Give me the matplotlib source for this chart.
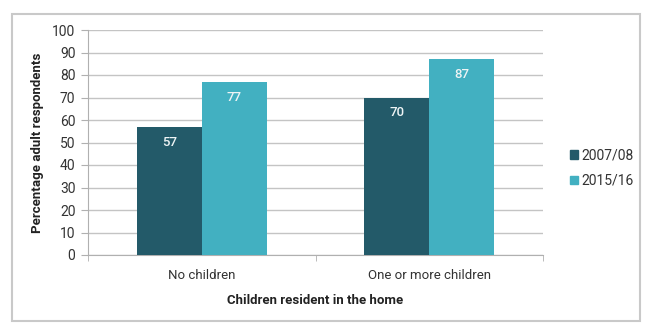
import matplotlib
matplotlib.use("Agg")
import matplotlib.pyplot as plt
from matplotlib.patches import Rectangle, Patch
import numpy as np

categories = ["No children", "One or more children"]
series_names = ["2007/08", "2015/16"]
values_2007 = [57, 70]
values_2015 = [77, 87]
y_ticks = [0, 10, 20, 30, 40, 50, 60, 70, 80, 90, 100]

colors = ["#235a69", "#42b0c1"]
font = "Roboto"
plt.rcParams["font.family"] = [font, "DejaVu Sans"]

fig = plt.figure(figsize=(6.5, 3.31), dpi=100)
ax = fig.add_axes([88/650, 1-255/331, (543-88)/650, (255-30)/331])

x = np.arange(len(categories))
w = 0.286
b1 = ax.bar(x - w/2, values_2007, w, color=colors[0], zorder=3)
b2 = ax.bar(x + w/2, values_2015, w, color=colors[1], zorder=3)

for bars, vals in ((b1, values_2007), (b2, values_2015)):
    for rect, v in zip(bars, vals):
        ax.text(rect.get_x() + rect.get_width()/2, v - 6.8, str(v),
                ha="center", va="center", color="#eef4f5", fontsize=9.5,
                fontweight="medium", zorder=4)

ax.set_xlim(-0.5, 1.5)
ax.set_ylim(0, 100)
ax.set_yticks(y_ticks)
ax.set_yticklabels([str(t) for t in y_ticks], fontsize=10, color="#333333")
ax.yaxis.grid(True, color="#c4c4c4", linewidth=1.0, zorder=0)
ax.set_axisbelow(True)

ax.set_xticks(x)
ax.set_xticklabels(categories, fontsize=9.5, color="#333333")
ax.tick_params(axis="x", length=0, pad=10)
# minor ticks at category boundaries
ax.set_xticks([-0.5, 0.5, 1.5], minor=True)
ax.tick_params(axis="x", which="minor", length=4, color="#b0b0b0")
ax.tick_params(axis="y", length=5, color="#b0b0b0", pad=4)

for s in ["top", "right"]:
    ax.spines[s].set_visible(False)
ax.spines["left"].set_color("#b0b0b0")
ax.spines["bottom"].set_color("#b0b0b0")

ax.set_ylabel("Percentage adult respondents", fontsize=9.5, fontweight="bold",
              color="#222222", labelpad=6)
ax.set_xlabel("Children resident in the home", fontsize=9.5, fontweight="bold",
              color="#222222", labelpad=9)

handles = [Patch(color=c) for c in colors]
fig.legend(handles, series_names, loc="center left",
           bbox_to_anchor=(557/650, 1-168/331), frameon=False,
           handlelength=0.6, handleheight=0.6, handletextpad=0.25,
           labelspacing=0.85, fontsize=10, labelcolor="#333333")

fig.patches.append(Rectangle((12/650, 1-321/331), (640-12)/650, (321-14)/331,
                             transform=fig.transFigure, fill=False,
                             edgecolor="#c9c9c9", linewidth=1.5))

fig.savefig("out.png", dpi=100, facecolor="white")
